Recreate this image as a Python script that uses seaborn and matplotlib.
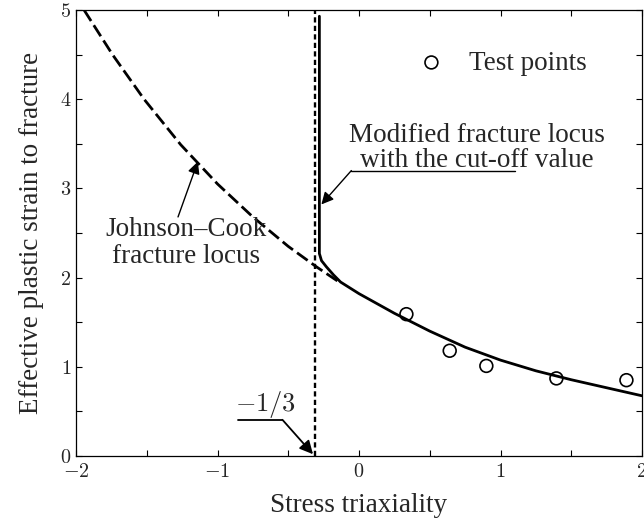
import matplotlib
matplotlib.use("Agg")
import matplotlib.pyplot as plt
from matplotlib.ticker import MultipleLocator
import numpy as np
import pandas as pd
import seaborn as sns

# Johnson-Cook fracture locus (dashed)
jc_x = [-1.943, -1.742, -1.519, -1.26, -1.0, -0.75, -0.5, -0.3, -0.15]
jc_y = [5.00, 4.50, 4.00, 3.49, 3.05, 2.68, 2.35, 2.12, 1.96]

# modified fracture locus with the cut-off (solid)
mod_x = [-0.28, -0.28, -0.265, -0.23, -0.18, -0.13, 0.0, 0.25, 0.5, 0.75,
         1.0, 1.25, 1.5, 1.75, 2.0]
mod_y = [4.93, 2.27, 2.19, 2.12, 2.03, 1.95, 1.82, 1.60, 1.40, 1.22,
         1.075, 0.955, 0.855, 0.765, 0.675]

# cut-off value line
cutoff_x = [-0.31, -0.31]
cutoff_y = [0.0, 5.0]

# test points
test_x = [0.335, 0.641, 0.90, 1.395, 1.89]
test_y = [1.59, 1.18, 1.01, 0.87, 0.85]

x_ticks = [-2, -1, 0, 1, 2]
y_ticks = [0, 1, 2, 3, 4, 5]

sns.set_style("ticks")
plt.rcParams["font.family"] = ["Liberation Serif", "DejaVu Serif"]
plt.rcParams["mathtext.fontset"] = "cm"

fig, ax = plt.subplots(figsize=(6.44, 5.18), dpi=100)
fig.subplots_adjust(left=76 / 644, right=642 / 644, bottom=1 - 456 / 518, top=1 - 10 / 518)

jc = pd.DataFrame({"x": jc_x, "y": jc_y})
mod = pd.DataFrame({"x": mod_x, "y": mod_y})
cut = pd.DataFrame({"x": cutoff_x, "y": cutoff_y})
pts = pd.DataFrame({"x": test_x, "y": test_y})

sns.lineplot(data=cut, x="x", y="y", ax=ax, color="black", lw=1.7,
             sort=False, estimator=None, linestyle=(0, (2.2, 1.4)))
sns.lineplot(data=jc, x="x", y="y", ax=ax, color="black", lw=2.0,
             sort=False, estimator=None, linestyle=(0, (4.7, 1.8)))
sns.lineplot(data=mod, x="x", y="y", ax=ax, color="black", lw=2.0,
             sort=False, estimator=None)
sns.scatterplot(data=pts, x="x", y="y", ax=ax, marker="o", s=85,
                facecolors="none", edgecolor="black", linewidth=1.2,
                label="Test points", zorder=5)

ax.set_xlim(-2, 2)
ax.set_ylim(0, 5)
ax.set_xticks(x_ticks)
ax.set_xticklabels([f"${v}$" for v in x_ticks])
ax.set_yticks(y_ticks)
ax.set_yticklabels([f"${v}$" for v in y_ticks])
ax.xaxis.set_minor_locator(MultipleLocator(0.5))
ax.yaxis.set_minor_locator(MultipleLocator(0.5))
ax.tick_params(which="both", direction="in", top=True, right=True,
               length=4, width=0.8, labelsize=14.5, color="black")
ax.tick_params(axis="x", pad=5)
for sp in ax.spines.values():
    sp.set_linewidth(0.9)
    sp.set_color("black")

ax.set_xlabel("Stress triaxiality", fontsize=19.5, labelpad=8)
ax.set_ylabel("Effective plastic strain to fracture", fontsize=19.5, labelpad=11)

ax.legend(loc="center left", bbox_to_anchor=(0.604, 0.881), frameon=False,
          fontsize=19.5, handlelength=1.0, handletextpad=0.87,
          borderpad=0, borderaxespad=0)

arrow = dict(arrowstyle="-|>", color="black", lw=1.0, mutation_scale=18,
             shrinkA=0, shrinkB=0)

# Johnson-Cook label
ax.text(-1.221, 2.39, "Johnson\u2013Cook\nfracture locus", fontsize=19.5,
        ha="center", va="center", linespacing=1.08)
ax.annotate("", xy=(-1.139, 3.30), xytext=(-1.279, 2.68), arrowprops=arrow)

# modified locus label
ax.text(0.832, 3.45, "Modified fracture locus\nwith the cut-off value",
        fontsize=19.5, ha="center", va="center", linespacing=0.98)
ax.plot([-0.054, 1.10], [3.20, 3.20], color="black", lw=1.0)
ax.annotate("", xy=(-0.266, 2.82), xytext=(-0.054, 3.20), arrowprops=arrow)

# -1/3 label
ax.text(-0.66, 0.575, "$-1/3$", fontsize=19, ha="center", va="center")
ax.plot([-0.855, -0.541], [0.406, 0.406], color="black", lw=1.3)
ax.annotate("", xy=(-0.325, 0.02), xytext=(-0.541, 0.406),
            arrowprops=dict(arrowstyle="-|>", color="black", lw=1.3,
                            mutation_scale=20, shrinkA=0, shrinkB=0))

fig.savefig("out.png", dpi=100)
